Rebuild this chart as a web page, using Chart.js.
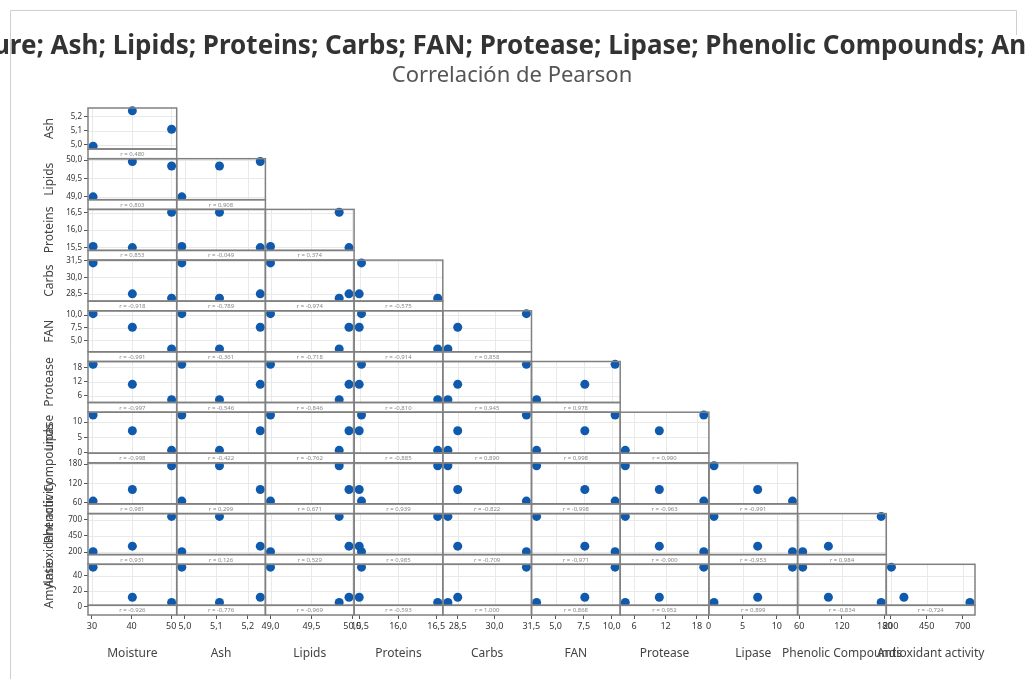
<!DOCTYPE html>
<html><head><meta charset="utf-8">
<script src="https://cdn.jsdelivr.net/npm/chart.js@4/dist/chart.umd.min.js"></script>
<style>html,body{margin:0;padding:0;background:#fff;overflow:hidden}#wrap{position:relative;width:1025px;height:679px}</style>
</head><body><div id="wrap"><canvas id="c" width="1025" height="679"></canvas></div>
<script>
// ---- data (3 samples) ----
const varNames = ['Moisture','Ash','Lipids','Proteins','Carbs','FAN','Protease','Lipase','Phenolic Compounds','Antioxidant activity','Amylase'];
const moisture    = [30.3, 40.2, 50.1];
const ash         = [4.99, 5.24, 5.11];
const lipids      = [49.0, 49.96, 49.84];
const proteins    = [15.52, 15.49, 16.52];
const carbs       = [31.3, 28.5, 28.1];
const fan         = [10.3, 7.6, 3.3];
const protease    = [19.3, 10.8, 4.3];
const lipase      = [12.3, 7.2, 0.8];
const phenolic    = [65, 101, 175];
const antioxidant = [205, 292, 750];
const amylase     = [51, 12, 5.3];

// ---- tick values ----
const moistureTicks    = [30, 40, 50];
const ashTicks         = [5.0, 5.1, 5.2];
const lipidsTicks      = [49.0, 49.5, 50.0];
const proteinsTicks    = [15.5, 16.0, 16.5];
const carbsTicks       = [28.5, 30.0, 31.5];
const fanTicks         = [5.0, 7.5, 10.0];
const proteaseTicks    = [6, 12, 18];
const lipaseTicks      = [0, 5, 10];
const phenolicTicks    = [60, 120, 180];
const antioxidantTicks = [200, 450, 700];
const amylaseTicks     = [0, 20, 40];
const tickDecimals     = [0, 1, 1, 1, 1, 1, 0, 0, 0, 0, 0];

const titleText = 'Gráfica de matriz de Moisture; Ash; Lipids; Proteins; Carbs; FAN; Protease; Lipase; Phenolic Compounds; Antioxidant activity; Amylase';
const subtitleText = 'Correlación de Pearson';

const vars  = [moisture, ash, lipids, proteins, carbs, fan, protease, lipase, phenolic, antioxidant, amylase];
const ticks = [moistureTicks, ashTicks, lipidsTicks, proteinsTicks, carbsTicks, fanTicks, proteaseTicks, lipaseTicks, phenolicTicks, antioxidantTicks, amylaseTicks];

const F = '"Noto Sans", "Open Sans", sans-serif';
const BLUE = '#0f5aad';
const NCOL = 10;

function rng(v, p) {
  const mn = Math.min(...v), mx = Math.max(...v), r = mx - mn;
  return {min: mn - p * r, max: mx + p * r};
}
const fmt = (v, d) => v.toFixed(d).replace('.', ',');
function pearson(a, b) {
  const n = a.length, ma = a.reduce((s, x) => s + x, 0) / n, mb = b.reduce((s, x) => s + x, 0) / n;
  let sab = 0, saa = 0, sbb = 0;
  for (let k = 0; k < n; k++) { sab += (a[k]-ma)*(b[k]-mb); saa += (a[k]-ma)**2; sbb += (b[k]-mb)**2; }
  return sab / Math.sqrt(saa * sbb);
}

const scales = {};
for (let j = 0; j < NCOL; j++) {
  const r = rng(vars[j], 0.065);
  scales['x' + j] = {
    type: 'linear', axis: 'x', position: 'bottom', stack: 'cols', stackWeight: 1,
    min: r.min, max: r.max,
    afterBuildTicks: s => { s.ticks = ticks[j].map(v => ({value: v})); },
    afterFit: s => { s.height = 49; },
    grid: {drawOnChartArea: false, drawTicks: true, tickLength: 4, color: '#555', lineWidth: 1},
    border: {display: false},
    ticks: {autoSkip: false, maxRotation: 0, minRotation: 0, padding: 2, color: '#333',
      font: {size: 9, family: F}, callback: v => fmt(v, tickDecimals[j])}
  };
}
for (let i = 0; i < NCOL; i++) {
  const r = rng(vars[i + 1], 0.08);
  scales['y' + i] = {
    type: 'linear', axis: 'y', position: 'left', stack: 'rows', stackWeight: 41, weight: 100 - 2 * i,
    min: r.min, max: r.max,
    afterBuildTicks: s => { s.ticks = ticks[i + 1].map(v => ({value: v})); },
    afterFit: s => { s.width = 49; },
    grid: {drawOnChartArea: false, drawTicks: true, tickLength: 4, color: '#555', lineWidth: 1},
    border: {display: false},
    ticks: {autoSkip: false, padding: 2, color: '#333', font: {size: 8, family: F},
      callback: v => fmt(v, tickDecimals[i + 1])}
  };
  scales['s' + i] = {
    type: 'linear', axis: 'y', position: 'left', stack: 'rows', stackWeight: 9.7, weight: 99 - 2 * i,
    display: false, afterFit: s => { s.width = 49; }
  };
}

const datasets = [];
for (let i = 0; i < NCOL; i++) {
  for (let j = 0; j <= i; j++) {
    datasets.push({
      data: vars[j].map((x, k) => ({x: x, y: vars[i + 1][k]})),
      xAxisID: 'x' + j, yAxisID: 'y' + i,
      pointRadius: 4.5, pointHoverRadius: 4.5, pointBackgroundColor: BLUE, pointBorderWidth: 0,
      showLine: false, clip: false
    });
  }
}

const matrixPlugin = {
  id: 'matrix',
  beforeDatasetsDraw(chart) {
    const ctx = chart.ctx;
    ctx.save();
    ctx.strokeStyle = '#e9e9e9';
    ctx.lineWidth = 1;
    for (let i = 0; i < NCOL; i++) {
      const ys = chart.scales['y' + i];
      for (let j = 0; j <= i; j++) {
        const xs = chart.scales['x' + j];
        ctx.beginPath();
        ticks[j].forEach(v => { const px = Math.round(xs.getPixelForValue(v)) + 0.5; ctx.moveTo(px, ys.top); ctx.lineTo(px, ys.bottom); });
        ticks[i + 1].forEach(v => { const py = Math.round(ys.getPixelForValue(v)) + 0.5; ctx.moveTo(xs.left, py); ctx.lineTo(xs.right, py); });
        ctx.stroke();
      }
    }
    ctx.restore();
  },
  afterDatasetsDraw(chart) {
    const ctx = chart.ctx;
    ctx.save();
    for (let i = 0; i < NCOL; i++) {
      const ys = chart.scales['y' + i], ss = chart.scales['s' + i];
      for (let j = 0; j <= i; j++) {
        const xs = chart.scales['x' + j];
        ctx.fillStyle = '#fff';
        ctx.fillRect(xs.left, ss.top, xs.right - xs.left, ss.bottom - ss.top);
      }
    }
    ctx.strokeStyle = '#808080';
    ctx.lineWidth = 1.5;
    ctx.font = '6px ' + F;
    ctx.textAlign = 'center';
    ctx.textBaseline = 'middle';
    for (let i = 0; i < NCOL; i++) {
      const ys = chart.scales['y' + i], ss = chart.scales['s' + i];
      for (let j = 0; j <= i; j++) {
        const xs = chart.scales['x' + j];
        ctx.strokeRect(xs.left, ys.top, xs.right - xs.left, ys.bottom - ys.top);
        ctx.strokeRect(xs.left, ss.top, xs.right - xs.left, ss.bottom - ss.top);
        ctx.fillStyle = '#888';
        ctx.fillText('r = ' + fmt(pearson(vars[j], vars[i + 1]), 3), (xs.left + xs.right) / 2, (ss.top + ss.bottom) / 2 + 0.5);
      }
    }
    ctx.restore();
  },
  afterDraw(chart) {
    const ctx = chart.ctx;
    ctx.save();
    // frame
    ctx.strokeStyle = '#cfcfcf';
    ctx.lineWidth = 1;
    ctx.beginPath();
    ctx.moveTo(10.5, 679); ctx.lineTo(10.5, 10.5); ctx.lineTo(1016.5, 10.5); ctx.lineTo(1016.5, 35);
    ctx.stroke();
    // titles
    ctx.textAlign = 'center';
    ctx.textBaseline = 'middle';
    ctx.fillStyle = '#333';
    ctx.font = 'bold 26px ' + F;
    ctx.fillText(titleText, 512, 47);
    ctx.fillStyle = '#555';
    ctx.font = '22px ' + F;
    ctx.fillText(subtitleText, 512, 76);
    // axis titles
    ctx.fillStyle = '#444';
    ctx.font = '12px ' + F;
    for (let j = 0; j < NCOL; j++) {
      const xs = chart.scales['x' + j];
      ctx.fillText(varNames[j], (xs.left + xs.right) / 2, 654);
    }
    for (let i = 0; i < NCOL; i++) {
      const ys = chart.scales['y' + i];
      ctx.save();
      ctx.translate(50, (ys.top + ys.bottom) / 2);
      ctx.rotate(-Math.PI / 2);
      ctx.fillText(varNames[i + 1], 0, 0);
      ctx.restore();
    }
    ctx.restore();
  }
};

new Chart(document.getElementById('c'), {
  type: 'scatter',
  data: {datasets: datasets},
  options: {
    responsive: false, animation: false, devicePixelRatio: 1, events: [],
    layout: {padding: {left: 39, right: 50, top: 108, bottom: 15}},
    plugins: {legend: {display: false}, title: {display: false}, tooltip: {enabled: false}},
    scales: scales
  },
  plugins: [matrixPlugin]
});
</script>
</body></html>
